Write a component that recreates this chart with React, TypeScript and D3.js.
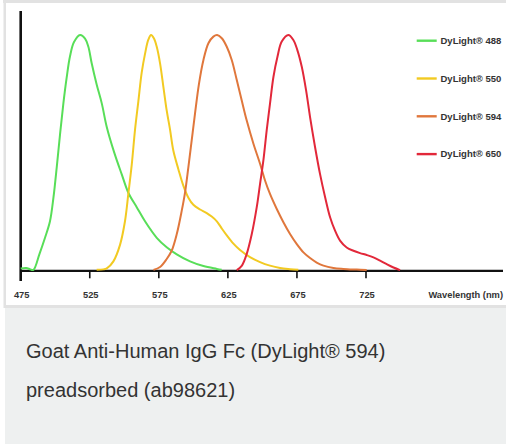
import React from 'react';
import * as d3 from 'd3';

// emission spectra: [wavelength nm, normalised intensity]
const dl488: [number, number][] = [
  [475, 0.01], [479, 0.012], [482, 0.006], [484.2, 0.004], [488.5, 0.07], [492.6, 0.14], [496.2, 0.21],
  [498.7, 0.31], [501.1, 0.44], [503.5, 0.58], [505.9, 0.71], [508.3, 0.82], [510.7, 0.91],
  [513.6, 0.97], [518, 1.0], [521.6, 0.985], [524, 0.95], [526.4, 0.88], [530, 0.79],
  [533.7, 0.71], [537.3, 0.61], [542.8, 0.5], [548.1, 0.41], [553, 0.33], [559, 0.27],
  [565, 0.21], [573.5, 0.14], [580.7, 0.1], [588, 0.07], [597.6, 0.04], [607.3, 0.02],
  [617, 0.008], [620.5, 0.004],
];
const dl550: [number, number][] = [
  [530, 0.004], [534.9, 0.006], [537.3, 0.01], [542.1, 0.04], [546.9, 0.11], [550.5, 0.21],
  [553, 0.33], [555.4, 0.45], [557.8, 0.6], [560.2, 0.72], [562.6, 0.84], [565, 0.92],
  [567.4, 0.98], [569.4, 1.0], [571.5, 0.985], [573.5, 0.95], [575.9, 0.88], [578.3, 0.78],
  [580.7, 0.68], [583.1, 0.6], [585.5, 0.51], [589.2, 0.43], [592.8, 0.36], [596.4, 0.31],
  [600, 0.28], [604.9, 0.26], [609.7, 0.245], [613.3, 0.23], [617, 0.21], [620.5, 0.18],
  [624.2, 0.15], [629, 0.115], [633.8, 0.088], [641, 0.058], [648.3, 0.037], [655.5, 0.022],
  [662.8, 0.012], [670, 0.007], [676, 0.004],
];
const dl594: [number, number][] = [
  [571.1, 0.004], [575.9, 0.016], [580.7, 0.05], [584.3, 0.085], [588, 0.156], [591.6, 0.255],
  [594, 0.333], [596.4, 0.44], [598.8, 0.553], [601.2, 0.667], [604.1, 0.794], [607.3, 0.894],
  [610.9, 0.965], [614.5, 0.993], [617.2, 1.0], [620.6, 0.986], [624.2, 0.95], [627.8, 0.894],
  [631.4, 0.81], [635, 0.723], [638.6, 0.638], [643.5, 0.539], [648.3, 0.454], [651.9, 0.383],
  [655.5, 0.326], [660.4, 0.262], [665.2, 0.206], [670, 0.156], [674.9, 0.113], [679.7, 0.078],
  [684.5, 0.054], [689.3, 0.035], [694.2, 0.022], [701.4, 0.012], [708.6, 0.008], [718.3, 0.005],
  [725.5, 0.003],
];
const dl650: [number, number][] = [
  [631.4, 0.003], [635, 0.021], [638.6, 0.071], [642.3, 0.156], [645.9, 0.27], [648.3, 0.369],
  [650.7, 0.468], [653.1, 0.596], [655.5, 0.709], [658, 0.823], [660.9, 0.908], [664, 0.972],
  [668.8, 1.0], [672.4, 0.979], [675.3, 0.936], [678.5, 0.865], [681.6, 0.766], [684.5, 0.652],
  [688.1, 0.525], [691.7, 0.411], [695.4, 0.312], [699, 0.227], [702.6, 0.17], [706.2, 0.128],
  [711, 0.099], [715.9, 0.085], [720.7, 0.075], [725.5, 0.067], [730.4, 0.057], [735.2, 0.043],
  [740, 0.028], [744.9, 0.014], [749.7, 0.003],
];

const seriesNames = ['DyLight® 488', 'DyLight® 550', 'DyLight® 594', 'DyLight® 650'];
const seriesData = [dl488, dl550, dl594, dl650];
const seriesColors = ['#58de58', '#f2ca22', '#e0773c', '#e2283a'];
const tickValues = [475, 525, 575, 625, 675, 725];
const captionLines = ['Goat Anti-Human IgG Fc (DyLight® 594)', 'preadsorbed (ab98621)'];

export default function App() {
  const W = 506, H = 444;
  const x = d3.scaleLinear().domain([475, 725]).range([20.7, 366]);
  const y = d3.scaleLinear().domain([0, 1]).range([270.8, 35]);
  const line = d3.line<[number, number]>()
    .x(d => x(d[0])).y(d => y(d[1]))
    .curve(d3.curveCatmullRom.alpha(0.5));
  const lg = d3.scaleBand<string>().domain(seriesNames).range([40.7, 191.9]);
  const font = '"Liberation Sans", Arial, sans-serif';

  return (
    <div style={{ position: 'absolute', left: 0, top: 0 }}>
      <svg width={W} height={H} style={{ display: 'block' }}>
        <rect x={0} y={0} width={W} height={H} fill="#fff" />
        {/* card frame */}
        <rect x={3} y={0} width={W - 3} height={3} fill="#e2e2e2" />
        <rect x={3.5} y={0} width={2.5} height={308} fill="#e2e2e2" />
        <rect x={5} y={305} width={W - 5} height={3} fill="#e2e2e2" />
        <rect x={5} y={308} width={W - 5} height={H - 308} fill="#eef0f0" />

        {/* axes */}
        <line x1={x(475)} x2={x(475)} y1={11} y2={281} stroke="#111" strokeWidth={2.6} />
        <line x1={x(475)} x2={503} y1={y(0)} y2={y(0)} stroke="#111" strokeWidth={2.2} />
        {tickValues.slice(1).map(t => (
          <line key={t} x1={x(t)} x2={x(t)} y1={y(0)} y2={y(0) + 7.5} stroke="#111" strokeWidth={1.6} />
        ))}
        {tickValues.map(t => (
          <text key={t} x={x(t) + 1} y={297.5} textAnchor="middle" fontFamily={font}
            fontWeight="bold" fontSize={9.3} fill="#333">{t}</text>
        ))}
        <text x={503} y={297.5} textAnchor="end" fontFamily={font} fontWeight="bold"
          fontSize={9.3} fill="#333">Wavelength (nm)</text>

        {/* spectra */}
        {seriesData.map((d, i) => (
          <path key={i} d={line(d) ?? ''} fill="none" stroke={seriesColors[i]}
            strokeWidth={2} strokeLinejoin="round" />
        ))}

        {/* legend */}
        {seriesNames.map((n, i) => (
          <g key={n} transform={`translate(0,${lg(n)})`}>
            <line x1={416.7} x2={436.7} y1={0} y2={0} stroke={seriesColors[i]} strokeWidth={2.4} />
            <text x={440.5} y={3.3} fontFamily={font} fontWeight="bold" fontSize={9.5}
              fill="#333">{n}</text>
          </g>
        ))}

        {/* caption */}
        {captionLines.map((c, i) => (
          <text key={i} x={26} y={358 + i * 38.5} fontFamily={font} fontSize={20}
            fill="#333">{c}</text>
        ))}
      </svg>
    </div>
  );
}
